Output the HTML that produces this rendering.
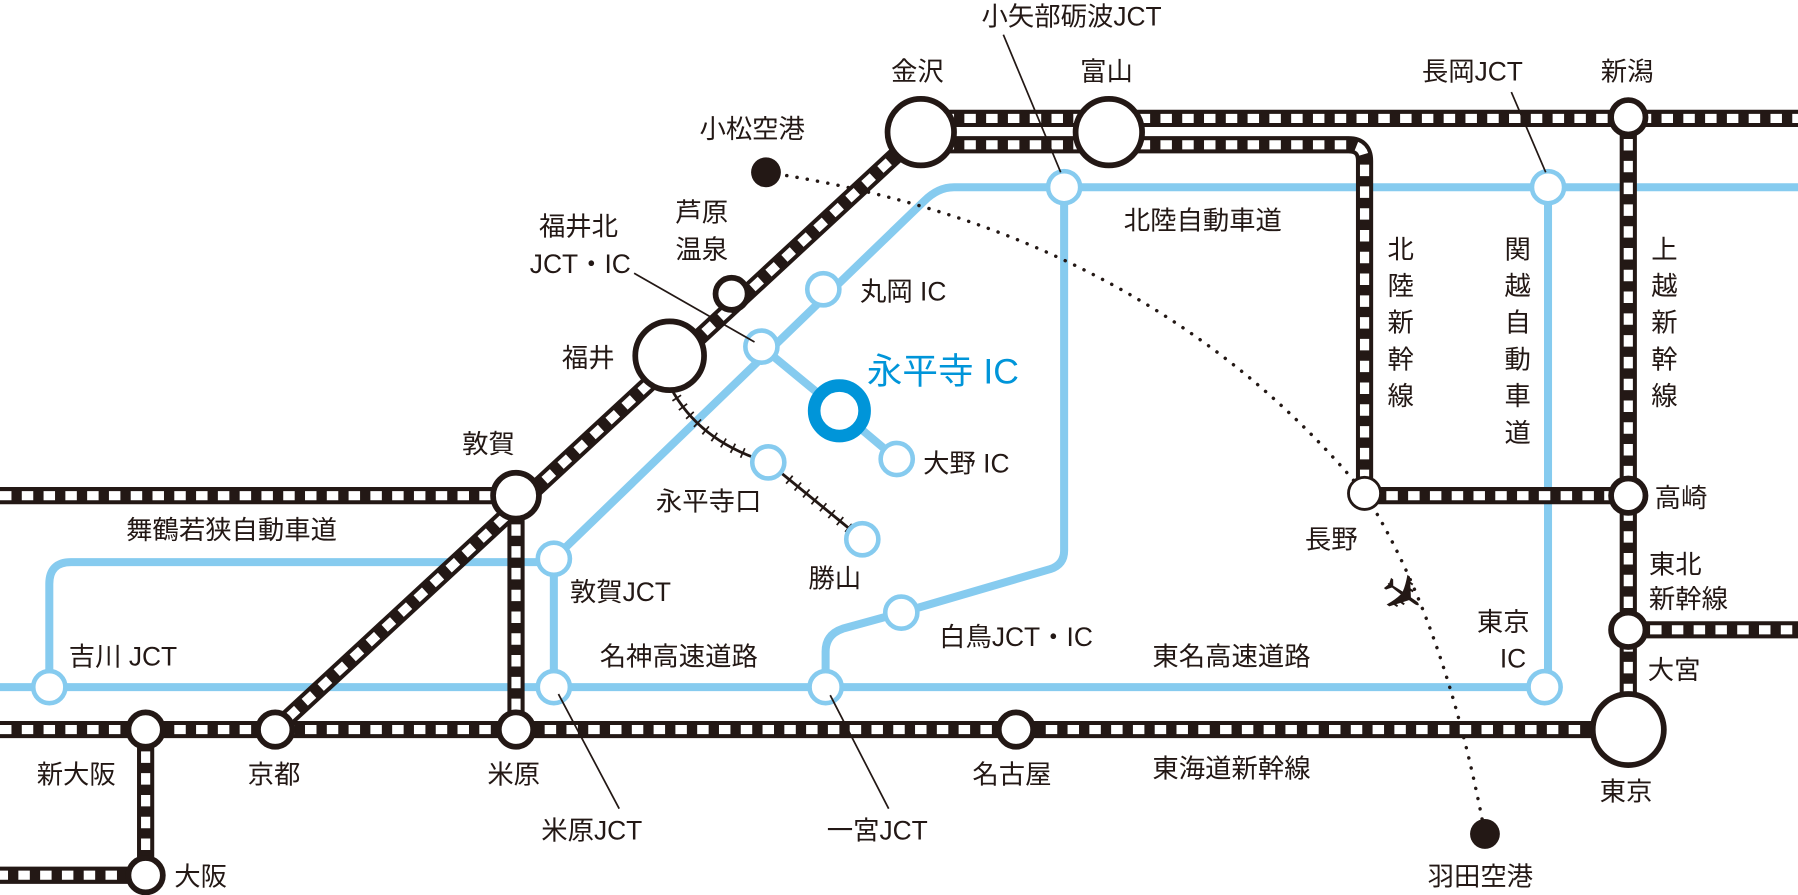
<!DOCTYPE html>
<html><head><meta charset="utf-8"><style>
html,body{margin:0;padding:0;background:#fff}
svg{display:block}
text{font-family:"Liberation Sans","Noto Sans CJK JP",sans-serif;fill:#231815;font-size:23px}
</style></head><body>
<svg width="1798" height="895" viewBox="0 0 1568 780" xmlns="http://www.w3.org/2000/svg">
<!-- blue roads -->
<g fill="none" stroke="#86cbef" stroke-width="7" stroke-linejoin="round">
<path d="M483,487 L806,175 Q818,163 832,163 L1568,163"/>
<path d="M664,302 L732,358 L782,400"/>
<path d="M928,163 L928,480 Q928,492 916,496 L786,534 L735,548 Q720,553 720,568 L720,599"/>
<path d="M0,599 L1347,599"/>
<path d="M1350,163 L1350,599"/>
<path d="M483,487 L483,599"/>
<path d="M483,490 L62,490 Q43,490 43,509 L43,599"/>
</g>
<!-- flight path -->
<path d="M668,150 Q1000,200 1190,430 Q1260,540 1295,727" fill="none" stroke="#231815" stroke-width="3" stroke-dasharray="0.1 9" stroke-linecap="round"/>
<text x="1222" y="534" text-anchor="middle" transform="rotate(35 1222 520)" style="font-size:46px;font-family:'DejaVu Sans',sans-serif">✈</text>
<!-- local line -->
<path d="M585,338 Q610,385 670,403 L752,470" fill="none" stroke="#231815" stroke-width="2.5"/>
<path d="M585,338 Q610,385 670,403 L752,470" fill="none" stroke="#231815" stroke-width="9" stroke-dasharray="1.5 8"/>
<!-- rail -->
<g fill="none" stroke-linejoin="round">
<g stroke="#231815" stroke-width="15">
<path d="M803,103 L1568,103"/>
<path d="M803,126 L1176,126 Q1190,126 1190,140 L1190,430"/>
<path d="M803,115 L240,636"/>
<path d="M0,432 L450,432 L450,636"/>
<path d="M0,636 L1420,636"/>
<path d="M127,636 L127,763 L0,763"/>
<path d="M1420,102 L1420,636"/>
<path d="M1190,432 L1420,432"/>
<path d="M1420,549 L1568,549"/>
</g>
<g stroke="#fff" stroke-width="8" stroke-dasharray="10 9">
<path d="M803,103 L1568,103"/>
<path d="M803,126 L1176,126 Q1190,126 1190,140 L1190,430"/>
<path d="M803,115 L240,636"/>
<path d="M0,432 L450,432 L450,636"/>
<path d="M0,636 L1420,636"/>
<path d="M127,636 L127,763 L0,763"/>
<path d="M1420,102 L1420,636"/>
<path d="M1190,432 L1420,432"/>
<path d="M1420,549 L1568,549"/>
</g>
</g>
<!-- black stations -->
<g fill="#fff" stroke="#231815" stroke-width="5">
<circle cx="803" cy="115" r="29"/>
<circle cx="967" cy="115" r="29"/>
<circle cx="638" cy="256" r="14"/>
<circle cx="584" cy="310" r="30"/>
<circle cx="450" cy="432" r="20"/>
<circle cx="240" cy="636" r="15"/>
<circle cx="127" cy="636" r="15"/>
<circle cx="450" cy="636" r="15"/>
<circle cx="886" cy="636" r="15"/>
<circle cx="127" cy="763" r="15"/>
<circle cx="1420" cy="102" r="15"/>
<circle cx="1420" cy="432" r="15"/>
<circle cx="1420" cy="549" r="15"/>
<circle cx="1420" cy="636" r="31"/>
<circle cx="1190" cy="430" r="14" stroke-width="2.5"/>
</g>
<circle cx="668" cy="150" r="13" fill="#231815"/>
<circle cx="1295" cy="727" r="13" fill="#231815"/>
<!-- blue nodes -->
<g fill="#fff" stroke="#86cbef" stroke-width="4">
<circle cx="928" cy="163" r="14"/>
<circle cx="1350" cy="163" r="14"/>
<circle cx="718" cy="252" r="14"/>
<circle cx="664" cy="302" r="14"/>
<circle cx="782" cy="400" r="14"/>
<circle cx="670" cy="403" r="14"/>
<circle cx="752" cy="470" r="14"/>
<circle cx="483" cy="487" r="14"/>
<circle cx="786" cy="534" r="14"/>
<circle cx="43" cy="599" r="14"/>
<circle cx="483" cy="599" r="14"/>
<circle cx="720" cy="599" r="14"/>
<circle cx="1347" cy="599" r="14"/>
</g>
<circle cx="732" cy="358" r="22" fill="#fff" stroke="#0095d9" stroke-width="11"/>
<!-- leader lines -->
<g stroke="#231815" stroke-width="1.5">
<line x1="875" y1="30" x2="925" y2="150"/>
<line x1="1318" y1="80" x2="1348" y2="150"/>
<line x1="553" y1="238" x2="658" y2="298"/>
<line x1="487" y1="605" x2="540" y2="705"/>
<line x1="724" y1="606" x2="775" y2="705"/>
</g>
<!-- labels -->
<text x="856" y="22">小矢部砺波JCT</text>
<text x="777" y="70">金沢</text>
<text x="942" y="70">富山</text>
<text x="1240" y="70">長岡JCT</text>
<text x="1396" y="70">新潟</text>
<text x="610" y="120">小松空港</text>
<text x="589" y="193">芦原</text>
<text x="589" y="225">温泉</text>
<text x="470" y="205">福井北</text>
<text x="462" y="238">JCT・IC</text>
<text x="490" y="320">福井</text>
<text x="750" y="262">丸岡 IC</text>
<text x="756" y="334" style="font-size:31px;fill:#0095d9">永平寺 IC</text>
<text x="805" y="412">大野 IC</text>
<text x="572" y="445">永平寺口</text>
<text x="705" y="512">勝山</text>
<text x="403" y="395">敦賀</text>
<text x="110" y="470">舞鶴若狭自動車道</text>
<text x="497" y="524">敦賀JCT</text>
<text x="60" y="580">吉川 JCT</text>
<text x="523" y="580">名神高速道路</text>
<text x="819" y="563">白鳥JCT・IC</text>
<text x="1005" y="580">東名高速道路</text>
<text x="980" y="200">北陸自動車道</text>
<text x="32" y="683">新大阪</text>
<text x="216" y="683">京都</text>
<text x="425" y="683">米原</text>
<text x="848" y="683">名古屋</text>
<text x="1005" y="678">東海道新幹線</text>
<text x="472" y="732">米原JCT</text>
<text x="721" y="732">一宮JCT</text>
<text x="152" y="772">大阪</text>
<text x="1395" y="698">東京</text>
<text x="1245" y="772">羽田空港</text>
<text x="1138" y="478">長野</text>
<text x="1443" y="442">高崎</text>
<text x="1437" y="592">大宮</text>
<text x="1438" y="500">東北</text>
<text x="1438" y="530">新幹線</text>
<text x="1288" y="550">東京</text>
<text x="1308" y="582">IC</text>
<g>
<text x="1210" y="225">北</text><text x="1210" y="257">陸</text><text x="1210" y="289">新</text><text x="1210" y="321">幹</text><text x="1210" y="353">線</text>
<text x="1312" y="225">関</text><text x="1312" y="257">越</text><text x="1312" y="289">自</text><text x="1312" y="321">動</text><text x="1312" y="353">車</text><text x="1312" y="385">道</text>
<text x="1440" y="225">上</text><text x="1440" y="257">越</text><text x="1440" y="289">新</text><text x="1440" y="321">幹</text><text x="1440" y="353">線</text>
</g>
</svg>
</body></html>
